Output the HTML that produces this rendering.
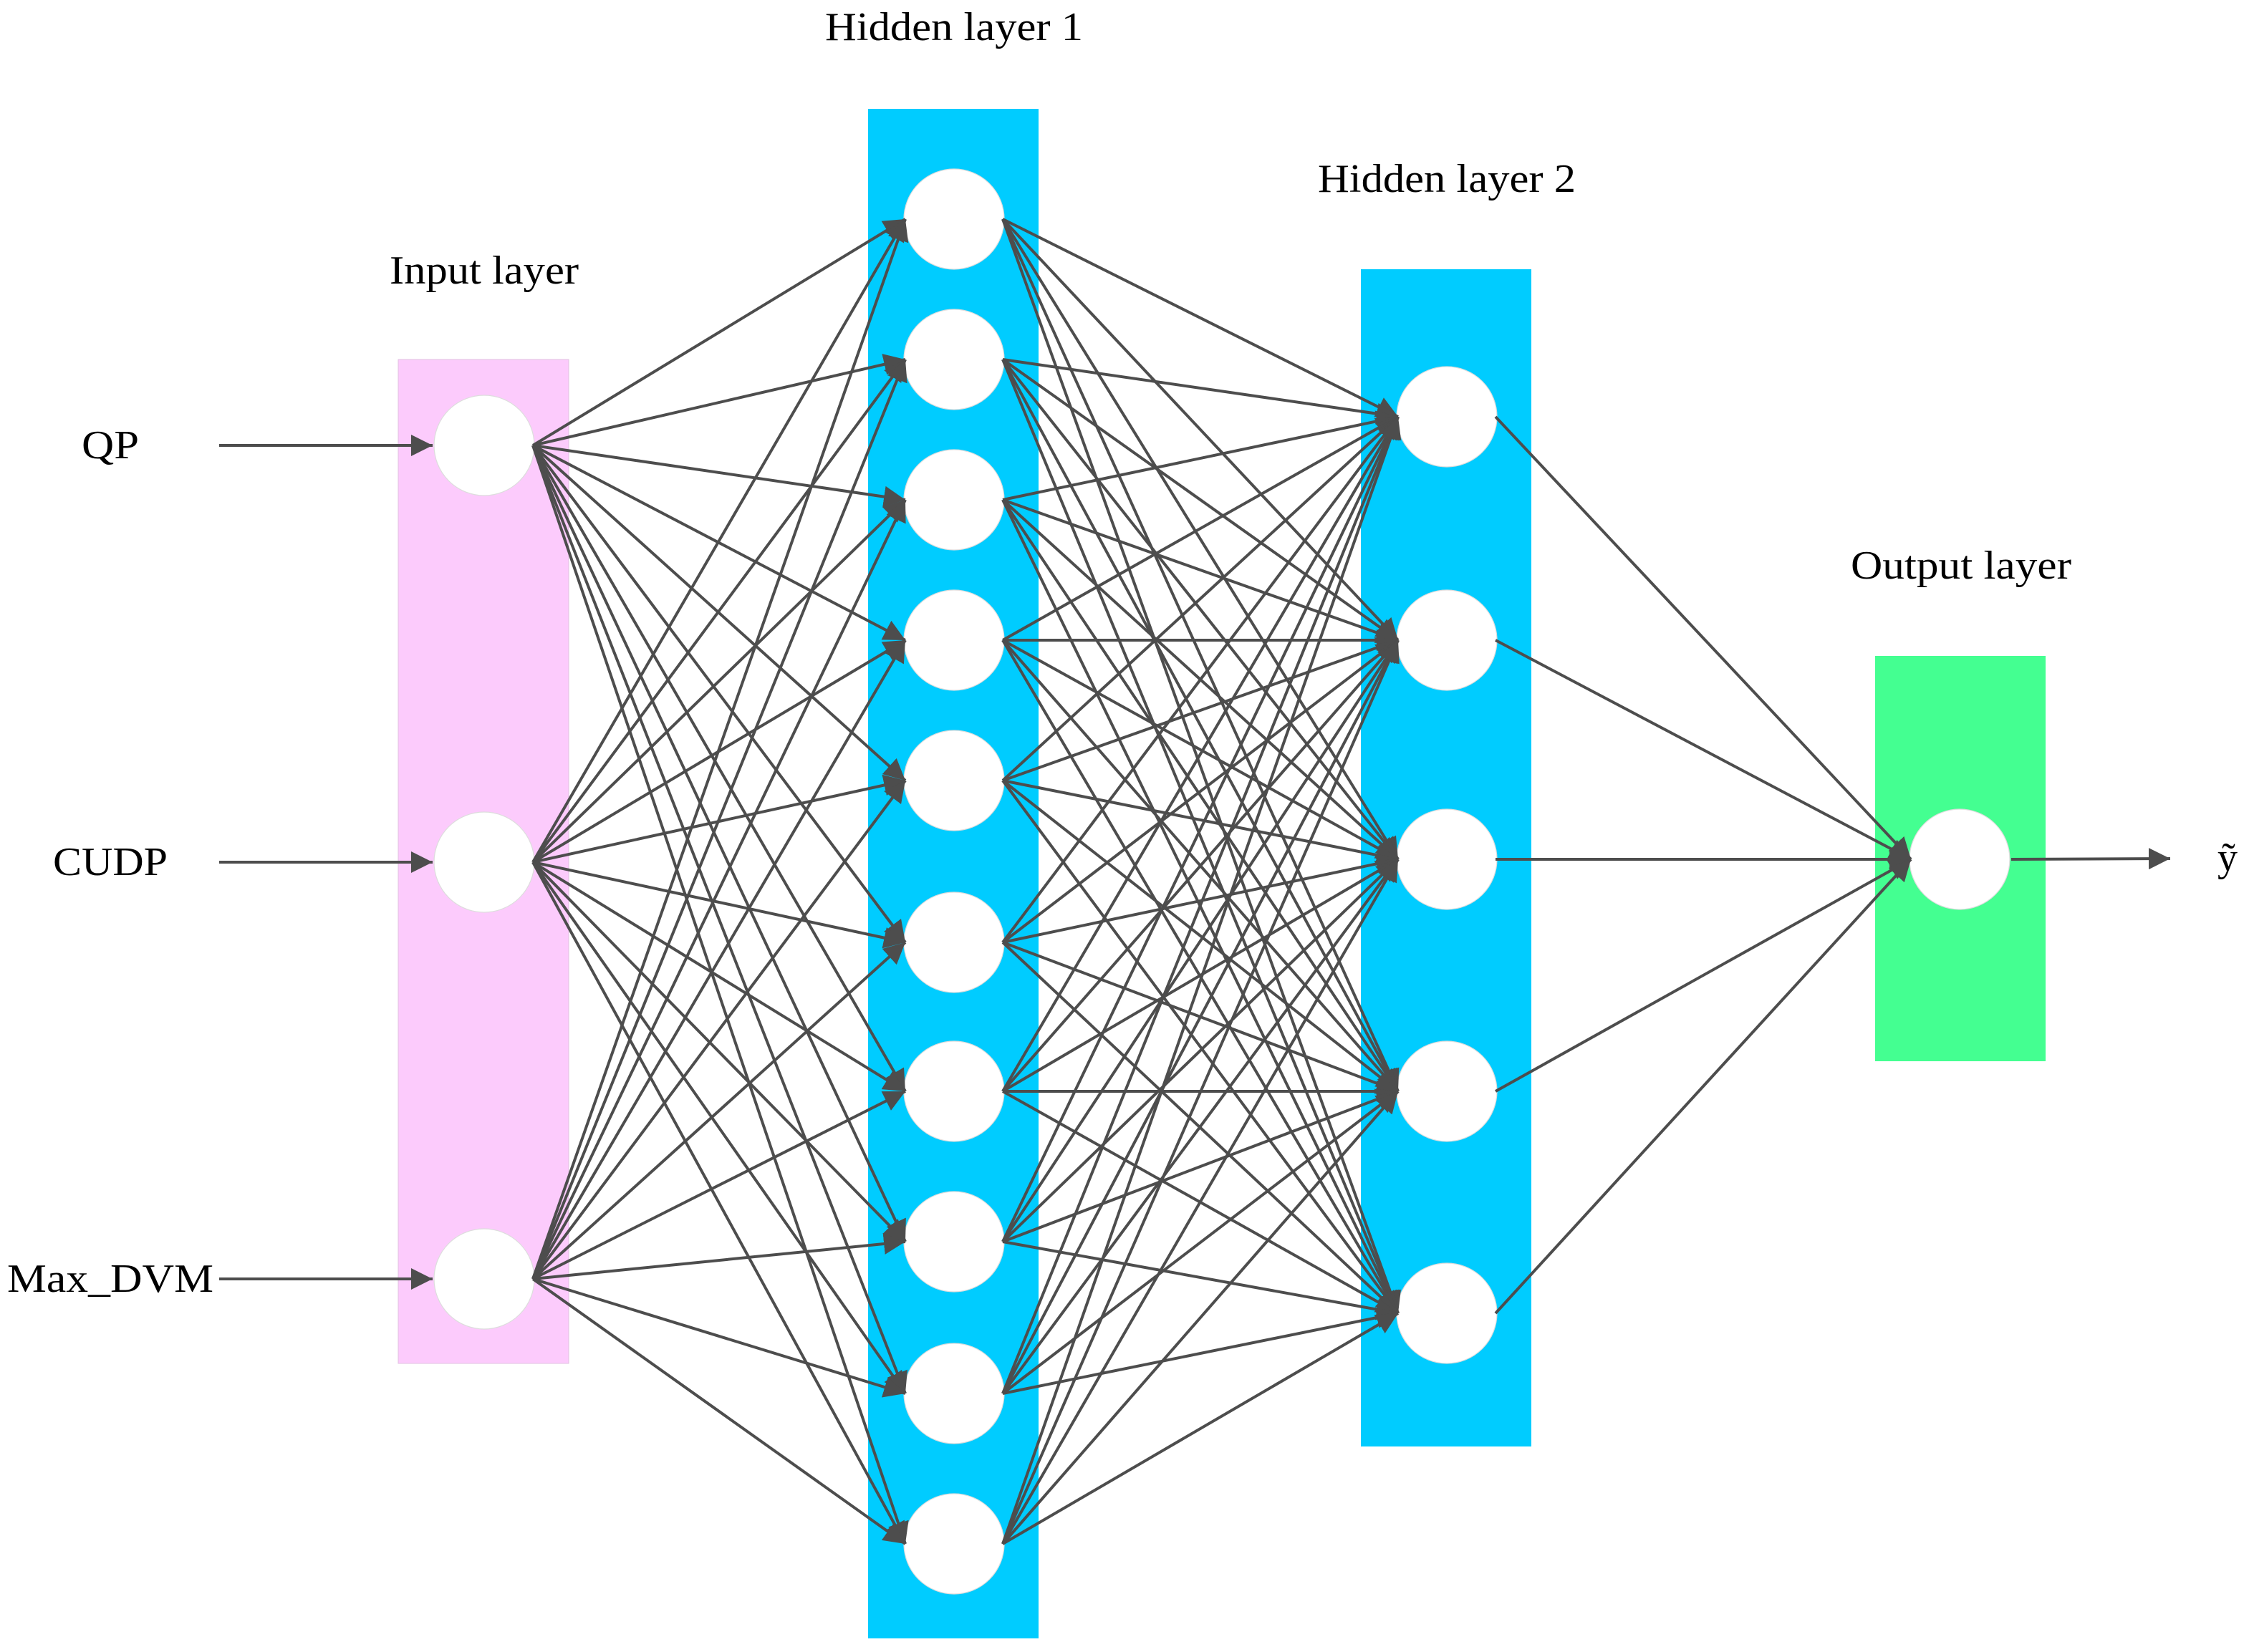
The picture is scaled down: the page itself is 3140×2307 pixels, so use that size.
<!DOCTYPE html>
<html><head><meta charset="utf-8"><style>html,body{margin:0;padding:0;background:#fff}svg{display:block}</style></head>
<body>
<svg id="s" xmlns="http://www.w3.org/2000/svg" width="3140" height="2307" viewBox="0 0 1570 1153.5">
<defs><marker id="a" viewBox="0 0 10 10" refX="10" refY="5" markerWidth="5" markerHeight="5" markerUnits="userSpaceOnUse" orient="auto"><path d="M0,0L10,5L0,10z" fill="#4d4d4d"/></marker>
<marker id="b" viewBox="0 0 10 10" refX="10" refY="5" markerWidth="15" markerHeight="15" markerUnits="userSpaceOnUse" orient="auto"><path d="M0,0L10,5L0,10z" fill="#4d4d4d"/></marker></defs>
<rect x="278" y="251" width="119" height="701" fill="#fccbfc" stroke="#e0c0e0" stroke-width="0.5"/>
<rect x="606" y="76" width="119" height="1068" fill="#00ccff"/>
<rect x="950" y="188" width="119" height="822" fill="#00ccff"/>
<rect x="1309" y="458" width="119" height="283" fill="#44ff91"/>
<g id="circ"></g>
<g id="edges" stroke="#4d4d4d" stroke-width="2" fill="none"></g>
<g font-family="Liberation Serif, serif" font-size="28" fill="#000" text-anchor="middle">
<text x="666" y="28" textLength="180" lengthAdjust="spacingAndGlyphs">Hidden layer 1</text>
<text x="1010" y="134" textLength="180" lengthAdjust="spacingAndGlyphs">Hidden layer 2</text>
<text x="338" y="198" textLength="132" lengthAdjust="spacingAndGlyphs">Input layer</text>
<text x="1369" y="404" textLength="154" lengthAdjust="spacingAndGlyphs">Output layer</text>
<text x="77" y="320" textLength="40" lengthAdjust="spacingAndGlyphs">QP</text>
<text x="77" y="611" textLength="80" lengthAdjust="spacingAndGlyphs">CUDP</text>
<text x="77" y="902" textLength="144" lengthAdjust="spacingAndGlyphs">Max_DVM</text>
<text x="1555" y="608">ỹ</text>
</g>
</svg>
<script>
var L=[[338,[311,602,893]],[666,[153,251,349,447,545,658,762,867,973,1078]],[1010,[291,447,600,762,917]],[1368,[600]]];
var NS="http://www.w3.org/2000/svg",c=document.getElementById("circ"),e=document.getElementById("edges");
function el(t,a,p){var n=document.createElementNS(NS,t);for(var k in a)n.setAttribute(k,a[k]);p.appendChild(n);return n;}
L.forEach(function(l){l[1].forEach(function(y){el("ellipse",{cx:l[0],cy:y,rx:35,ry:35,fill:"#fff",stroke:"#ddd","stroke-width":0.6},c);});});
for(var i=0;i<3;i++){var A=L[i],B=L[i+1];A[1].forEach(function(y1){B[1].forEach(function(y2){
var x1=A[0]+34,x2=B[0]-34;el("line",{x1:x1,y1:y1,x2:x2,y2:y2,"marker-end":"url(#b)"},e);});});}
[311,602,893].forEach(function(y){el("line",{x1:153,y1:y,x2:302,y2:y,"marker-end":"url(#b)"},e);});
el("line",{x1:1404,y1:600,x2:1515,y2:599.5,"marker-end":"url(#b)"},e);
</script>
</body></html>
